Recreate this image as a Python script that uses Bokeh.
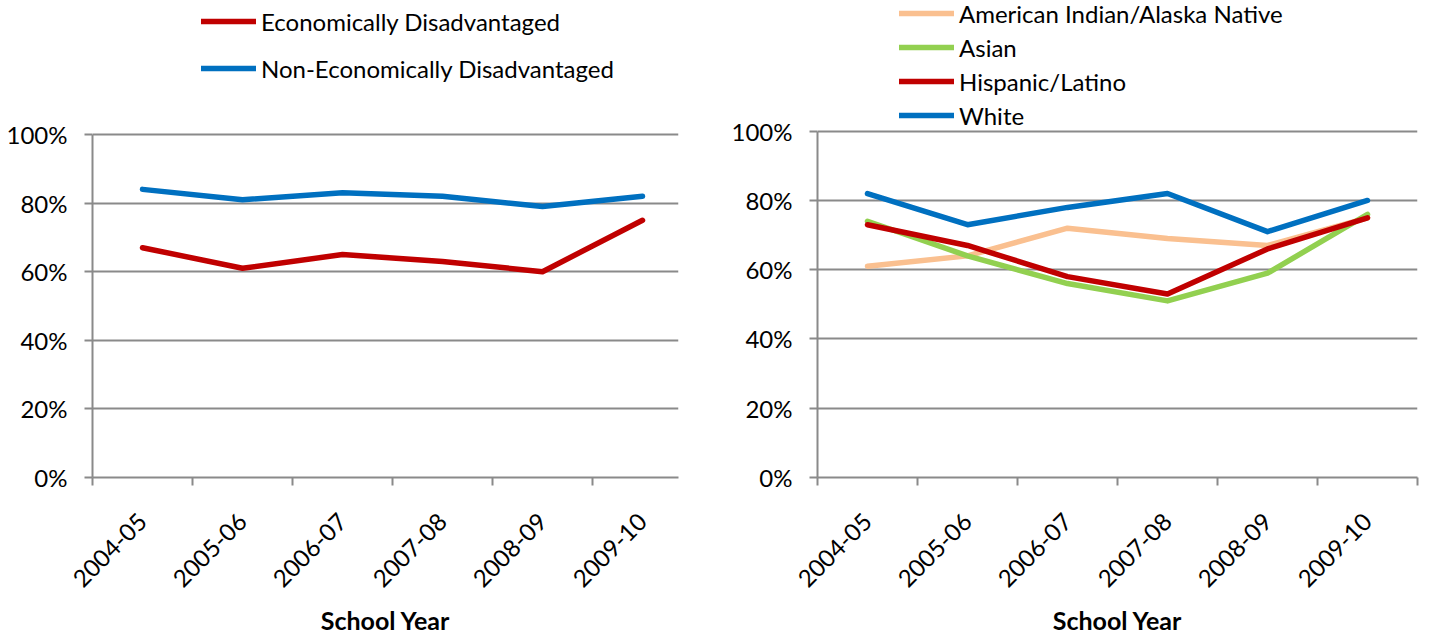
import math
from bokeh.plotting import figure
from bokeh.layouts import row
from bokeh.models import Range1d, FixedTicker, Legend, LegendItem, PrintfTickFormatter
from bokeh.embed import file_html
from bokeh.resources import INLINE

# ---- data ----
years = ["2004-05", "2005-06", "2006-07", "2007-08", "2008-09", "2009-10"]
econ = [67, 61, 65, 63, 60, 75]
non_econ = [84, 81, 83, 82, 79, 82]
aian = [61, 64, 72, 69, 67, 75]
asian = [74, 64, 56, 51, 59, 76]
hispanic = [73, 67, 58, 53, 66, 75]
white = [82, 73, 78, 82, 71, 80]
y_ticks = [0, 20, 40, 60, 80, 100]
x_title = "School Year"

FONT = "Lato"
FS = "24px"
GRID = "#8a8a8a"
RED = "#C00000"
BLUE = "#0070C0"
GREEN = "#92D050"
PEACH = "#FAC090"

centers = [i + 0.5 for i in range(len(years))]
bounds = [float(i) for i in range(len(years) + 1)]


def make_fig(width, bl, br, bb, x_end, y_end):
    p = figure(width=width, height=639, x_range=Range1d(0, x_end), y_range=Range1d(0, y_end),
               output_backend="svg", toolbar_location=None,
               min_border_left=bl, min_border_right=br, min_border_top=0, min_border_bottom=bb)
    p.outline_line_color = None
    p.background_fill_color = "white"
    p.border_fill_color = "white"
    p.xgrid.visible = False
    p.ygrid.ticker = FixedTicker(ticks=y_ticks)
    p.ygrid.grid_line_color = GRID
    p.ygrid.grid_line_width = 2

    xa = p.xaxis[0]
    xa.ticker = FixedTicker(ticks=centers, minor_ticks=bounds)
    xa.major_label_overrides = {c: y for c, y in zip(centers, years)}
    xa.major_tick_line_color = None
    xa.major_tick_out = 0
    xa.major_tick_in = 0
    xa.minor_tick_line_color = GRID
    xa.minor_tick_line_width = 2
    xa.minor_tick_out = 8
    xa.minor_tick_in = 0
    xa.axis_line_color = GRID
    xa.axis_line_width = 2
    xa.major_label_orientation = math.pi / 4
    xa.major_label_standoff = 32
    xa.major_label_text_font = FONT
    xa.major_label_text_font_size = FS
    xa.major_label_text_color = "black"
    xa.axis_label = x_title
    xa.axis_label_text_font = FONT
    xa.axis_label_text_font_size = "25px"
    xa.axis_label_text_font_style = "bold"
    xa.axis_label_text_color = "black"
    xa.axis_label_standoff = 7

    ya = p.yaxis[0]
    ya.ticker = FixedTicker(ticks=y_ticks)
    ya.bounds = (min(y_ticks), max(y_ticks))
    ya.formatter = PrintfTickFormatter(format="%d%%")
    ya.major_tick_out = 8
    ya.major_tick_in = 0
    ya.major_tick_line_color = GRID
    ya.major_tick_line_width = 2
    ya.minor_tick_line_color = None
    ya.axis_line_color = GRID
    ya.axis_line_width = 2
    ya.major_label_standoff = 17
    ya.major_label_text_font = FONT
    ya.major_label_text_font_size = FS
    ya.major_label_text_color = "black"
    return p


def add_lines(p, series):
    items = []
    for label, vals, color in series:
        r = p.line(centers, vals, line_color=color, line_width=5.5,
                   line_join="round", line_cap="round")
        items.append(LegendItem(label=label, renderers=[r]))
    return items


def make_legend(items, loc, spacing):
    lg = Legend(items=items, location=loc, orientation="vertical",
                padding=0, margin=0, spacing=spacing,
                glyph_width=55, glyph_height=30, label_height=30, label_standoff=5,
                label_text_font=FONT, label_text_font_size=FS, label_text_color="black",
                border_line_color=None, background_fill_alpha=0)
    return lg


# ---- left chart ----
p1 = make_fig(718, 92, 40, 162, 5.86, 139.07)
items1 = add_lines(p1, [("Economically Disadvantaged", econ, RED),
                        ("Non-Economically Disadvantaged", non_econ, BLUE)])
p1.add_layout(make_legend(items1, (109, 394), 17), "center")

# ---- right chart ----
p2 = make_fig(703, 99, 4, 161, 6, 137.75)
items2 = add_lines(p2, [("American Indian/Alaska Native", aian, PEACH),
                        ("Asian", asian, GREEN),
                        ("Hispanic/Latino", hispanic, RED),
                        ("White", white, BLUE)])
p2.add_layout(make_legend(items2, (82, 347), 4), "center")

layout = row(p1, p2)
open("out.html", "w").write(file_html(layout, INLINE))
